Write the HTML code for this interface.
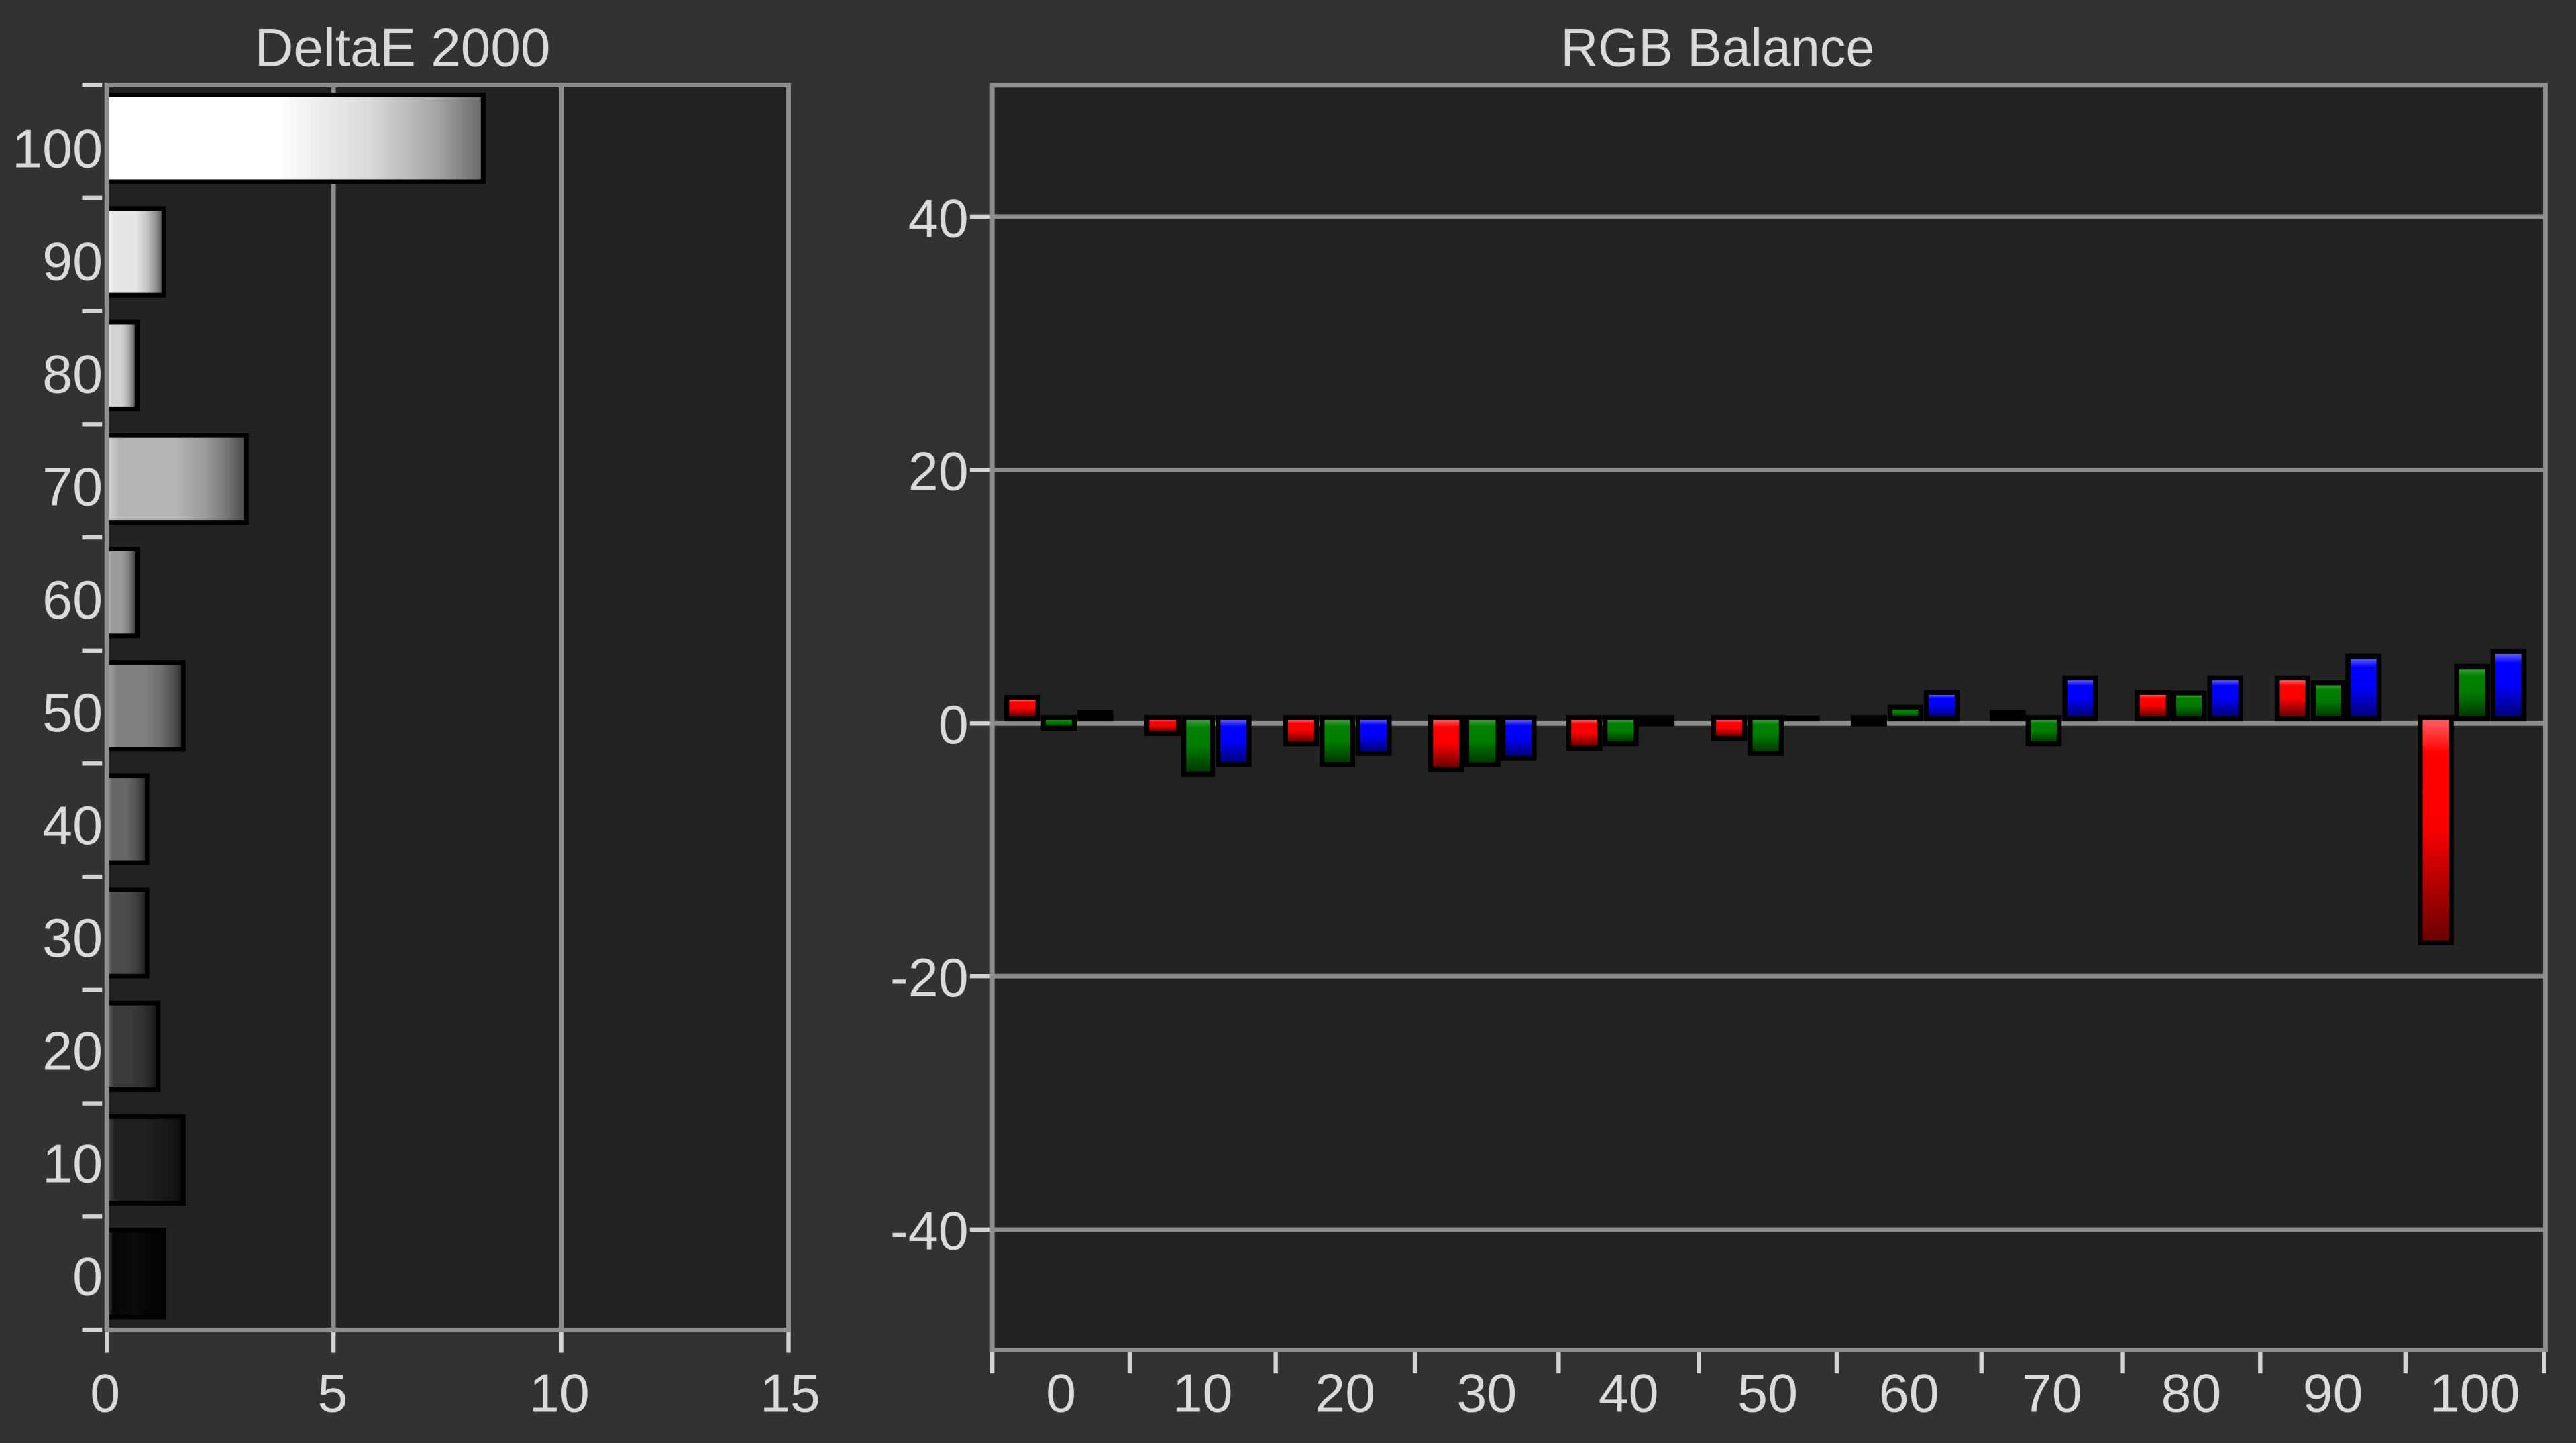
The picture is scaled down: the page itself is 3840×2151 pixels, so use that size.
<!DOCTYPE html>
<html>
<head>
<meta charset="utf-8">
<style>
html,body{margin:0;padding:0;background:#323232;}
svg{display:block;}
text{font-family:"Liberation Sans",Arial,sans-serif;fill:#dadada;font-size:33px;}
</style>
</head>
<body>
<svg width="3840" height="2151" viewBox="0 0 1568 878.3" preserveAspectRatio="none" xmlns="http://www.w3.org/2000/svg">
<defs>
  <linearGradient id="gR" x1="0" y1="0" x2="0" y2="1">
    <stop offset="0" stop-color="#ff5c5c"/><stop offset="0.15" stop-color="#ff0000"/><stop offset="0.5" stop-color="#f80000"/><stop offset="1" stop-color="#6a0000"/>
  </linearGradient>
  <linearGradient id="gG" x1="0" y1="0" x2="0" y2="1">
    <stop offset="0" stop-color="#3c9c3c"/><stop offset="0.15" stop-color="#008000"/><stop offset="0.5" stop-color="#007c00"/><stop offset="1" stop-color="#003800"/>
  </linearGradient>
  <linearGradient id="gB" x1="0" y1="0" x2="0" y2="1">
    <stop offset="0" stop-color="#5c5cff"/><stop offset="0.15" stop-color="#0000ff"/><stop offset="0.5" stop-color="#0000f8"/><stop offset="1" stop-color="#00007a"/>
  </linearGradient>
  <linearGradient id="l0" x1="0" y1="0" x2="1" y2="0"><stop offset="0" stop-color="#ffffff"/><stop offset="0.45" stop-color="#ffffff"/><stop offset="0.7" stop-color="#d9d9d9"/><stop offset="0.88" stop-color="#a6a6a6"/><stop offset="1" stop-color="#6b6b6b"/></linearGradient>
  <linearGradient id="l1" x1="0" y1="0" x2="1" y2="0"><stop offset="0" stop-color="#f5f5f5"/><stop offset="0.1" stop-color="#e6e6e6"/><stop offset="0.5" stop-color="#e6e6e6"/><stop offset="0.72" stop-color="#c4c4c4"/><stop offset="0.88" stop-color="#969696"/><stop offset="1" stop-color="#616161"/></linearGradient>
  <linearGradient id="l2" x1="0" y1="0" x2="1" y2="0"><stop offset="0" stop-color="#e6e6e6"/><stop offset="0.1" stop-color="#d2d2d2"/><stop offset="0.5" stop-color="#d2d2d2"/><stop offset="0.72" stop-color="#b3b3b3"/><stop offset="0.88" stop-color="#898989"/><stop offset="1" stop-color="#585858"/></linearGradient>
  <linearGradient id="l3" x1="0" y1="0" x2="1" y2="0"><stop offset="0" stop-color="#d0d0d0"/><stop offset="0.08" stop-color="#b4b4b4"/><stop offset="0.5" stop-color="#b4b4b4"/><stop offset="0.72" stop-color="#999999"/><stop offset="0.88" stop-color="#757575"/><stop offset="1" stop-color="#4c4c4c"/></linearGradient>
  <linearGradient id="l4" x1="0" y1="0" x2="1" y2="0"><stop offset="0" stop-color="#b4b4b4"/><stop offset="0.1" stop-color="#9a9a9a"/><stop offset="0.5" stop-color="#9a9a9a"/><stop offset="0.72" stop-color="#838383"/><stop offset="0.88" stop-color="#646464"/><stop offset="1" stop-color="#414141"/></linearGradient>
  <linearGradient id="l5" x1="0" y1="0" x2="1" y2="0"><stop offset="0" stop-color="#a0a0a0"/><stop offset="0.12" stop-color="#808080"/><stop offset="0.5" stop-color="#808080"/><stop offset="0.72" stop-color="#6d6d6d"/><stop offset="0.88" stop-color="#535353"/><stop offset="1" stop-color="#363636"/></linearGradient>
  <linearGradient id="l6" x1="0" y1="0" x2="1" y2="0"><stop offset="0" stop-color="#828282"/><stop offset="0.1" stop-color="#666666"/><stop offset="0.5" stop-color="#666666"/><stop offset="0.72" stop-color="#575757"/><stop offset="0.88" stop-color="#424242"/><stop offset="1" stop-color="#2b2b2b"/></linearGradient>
  <linearGradient id="l7" x1="0" y1="0" x2="1" y2="0"><stop offset="0" stop-color="#696969"/><stop offset="0.1" stop-color="#4c4c4c"/><stop offset="0.5" stop-color="#4c4c4c"/><stop offset="0.72" stop-color="#414141"/><stop offset="0.88" stop-color="#313131"/><stop offset="1" stop-color="#202020"/></linearGradient>
  <linearGradient id="l8" x1="0" y1="0" x2="1" y2="0"><stop offset="0" stop-color="#5f5f5f"/><stop offset="0.1" stop-color="#3a3a3a"/><stop offset="0.5" stop-color="#3a3a3a"/><stop offset="0.72" stop-color="#313131"/><stop offset="0.88" stop-color="#262626"/><stop offset="1" stop-color="#181818"/></linearGradient>
  <linearGradient id="l9" x1="0" y1="0" x2="1" y2="0"><stop offset="0" stop-color="#464646"/><stop offset="0.08" stop-color="#202020"/><stop offset="0.5" stop-color="#202020"/><stop offset="0.72" stop-color="#1b1b1b"/><stop offset="0.88" stop-color="#151515"/><stop offset="1" stop-color="#0d0d0d"/></linearGradient>
  <linearGradient id="l10" x1="0" y1="0" x2="1" y2="0"><stop offset="0" stop-color="#323232"/><stop offset="0.08" stop-color="#060606"/><stop offset="0.5" stop-color="#0a0a0a"/><stop offset="0.72" stop-color="#050505"/><stop offset="1" stop-color="#030303"/></linearGradient>
</defs>

<!-- background -->
<rect x="0" y="0" width="1568" height="878.3" fill="#323232"/>

<!-- titles -->
<text x="245" y="40.3" text-anchor="middle" textLength="180" lengthAdjust="spacingAndGlyphs">DeltaE 2000</text>
<text x="1045.5" y="40.3" text-anchor="middle" textLength="191" lengthAdjust="spacingAndGlyphs">RGB Balance</text>

<!-- ================= LEFT CHART ================= -->
<rect x="65" y="51.7" width="415" height="757.7" fill="#222222"/>
<g stroke="#8c8c8c" stroke-width="2.8" fill="none">
  <line x1="203" y1="51.7" x2="203" y2="809.4"/>
  <line x1="341.6" y1="51.7" x2="341.6" y2="809.4"/>
</g>

<!-- left bars -->
<g fill="#000">
  <rect x="65" y="56.4" width="230.7" height="55.6"/>
  <rect x="65" y="125.5" width="36" height="55.6"/>
  <rect x="65" y="194.6" width="20" height="55.6"/>
  <rect x="65" y="263.7" width="86.4" height="55.6"/>
  <rect x="65" y="332.8" width="20.1" height="55.6"/>
  <rect x="65" y="401.9" width="48" height="55.6"/>
  <rect x="65" y="470.9" width="25.9" height="55.6"/>
  <rect x="65" y="540.0" width="25.9" height="55.6"/>
  <rect x="65" y="609.1" width="32.7" height="55.6"/>
  <rect x="65" y="678.2" width="48" height="55.6"/>
  <rect x="65" y="747.3" width="36.3" height="55.6"/>
</g>
<rect x="66.3" y="59.2" width="226.4" height="50" fill="url(#l0)"/>
<rect x="66.3" y="128.3" width="32" height="50" fill="url(#l1)"/>
<rect x="66.3" y="197.4" width="15.7" height="50" fill="url(#l2)"/>
<rect x="66.3" y="266.5" width="82.1" height="50" fill="url(#l3)"/>
<rect x="66.3" y="335.6" width="15.8" height="50" fill="url(#l4)"/>
<rect x="66.3" y="404.7" width="43.9" height="50" fill="url(#l5)"/>
<rect x="66.3" y="473.7" width="21.9" height="50" fill="url(#l6)"/>
<rect x="66.3" y="542.8" width="21.9" height="50" fill="url(#l7)"/>
<rect x="66.3" y="611.9" width="28.4" height="50" fill="url(#l8)"/>
<rect x="66.3" y="681.0" width="43.7" height="50" fill="url(#l9)"/>
<rect x="66.3" y="750.1" width="32" height="50" fill="url(#l10)"/>

<!-- left frame -->
<g stroke="#8e8e8e" stroke-width="2.8" fill="none">
  <line x1="63.6" y1="51.7" x2="481.4" y2="51.7"/>
  <line x1="480" y1="51.7" x2="480" y2="809.4"/>
  <line x1="63.6" y1="809.4" x2="481.4" y2="809.4"/>
  <line x1="65" y1="50.3" x2="65" y2="810.8"/>
</g>
<!-- left ticks -->
<g stroke="#d4d4d4" stroke-width="2.6">
  <line x1="50" y1="51.5" x2="62.2" y2="51.5"/>
  <line x1="50" y1="120.4" x2="62.2" y2="120.4"/>
  <line x1="50" y1="189.3" x2="62.2" y2="189.3"/>
  <line x1="50" y1="258.2" x2="62.2" y2="258.2"/>
  <line x1="50" y1="327.1" x2="62.2" y2="327.1"/>
  <line x1="50" y1="396.0" x2="62.2" y2="396.0"/>
  <line x1="50" y1="464.8" x2="62.2" y2="464.8"/>
  <line x1="50" y1="533.7" x2="62.2" y2="533.7"/>
  <line x1="50" y1="602.6" x2="62.2" y2="602.6"/>
  <line x1="50" y1="671.5" x2="62.2" y2="671.5"/>
  <line x1="50" y1="740.4" x2="62.2" y2="740.4"/>
  <line x1="50" y1="809.3" x2="62.2" y2="809.3"/>
  <line x1="65" y1="810.8" x2="65" y2="823.4"/>
  <line x1="203" y1="810.8" x2="203" y2="823.4"/>
  <line x1="341.6" y1="810.8" x2="341.6" y2="823.4"/>
  <line x1="480" y1="810.8" x2="480" y2="823.4"/>
</g>
<!-- left labels -->
<g text-anchor="end">
  <text x="62.5" y="101.8">100</text>
  <text x="62.5" y="170.45">90</text>
  <text x="62.5" y="239.1">80</text>
  <text x="62.5" y="307.75">70</text>
  <text x="62.5" y="376.4">60</text>
  <text x="62.5" y="445.05">50</text>
  <text x="62.5" y="513.7">40</text>
  <text x="62.5" y="582.35">30</text>
  <text x="62.5" y="651.0">20</text>
  <text x="62.5" y="719.65">10</text>
  <text x="62.5" y="788.3">0</text>
</g>
<g text-anchor="middle">
  <text x="64" y="859.3">0</text>
  <text x="202.5" y="859.3">5</text>
  <text x="340.5" y="859.3">10</text>
  <text x="481" y="859.3">15</text>
</g>

<!-- ================= RIGHT CHART ================= -->
<rect x="604" y="51.8" width="944.8" height="770" fill="#222222"/>
<g stroke="#8c8c8c" stroke-width="2.8">
  <line x1="604" y1="131.8" x2="1548.8" y2="131.8"/>
  <line x1="604" y1="286" x2="1548.8" y2="286"/>
  <line x1="604" y1="440.3" x2="1548.8" y2="440.3"/>
  <line x1="604" y1="594.2" x2="1548.8" y2="594.2"/>
  <line x1="604" y1="748.4" x2="1548.8" y2="748.4"/>
</g>

<!-- right bars: black outlines -->
<g fill="#000">
  <rect x="611.3" y="423.0" width="22.0" height="16.0"/>
  <rect x="633.6" y="435.3" width="21.9" height="9.4"/>
  <rect x="655.9" y="432.2" width="21.7" height="6.8"/>
  <rect x="696.6" y="435.3" width="22.2" height="12.6"/>
  <rect x="719.1" y="435.3" width="20.4" height="37.5"/>
  <rect x="739.9" y="435.3" width="21.9" height="31.6"/>
  <rect x="781.0" y="435.3" width="21.9" height="18.9"/>
  <rect x="803.2" y="435.3" width="21.6" height="31.6"/>
  <rect x="825.1" y="435.3" width="22.0" height="24.8"/>
  <rect x="869.3" y="435.3" width="22.0" height="34.7"/>
  <rect x="891.3" y="435.3" width="22.1" height="31.8"/>
  <rect x="913.4" y="435.3" width="21.9" height="27.7"/>
  <rect x="953.4" y="435.3" width="21.9" height="21.6"/>
  <rect x="975.5" y="435.3" width="21.9" height="18.9"/>
  <rect x="997.4" y="435.3" width="21.9" height="6.8"/>
  <rect x="1041.6" y="435.3" width="21.9" height="15.6"/>
  <rect x="1063.8" y="435.3" width="22.0" height="24.8"/>
  <rect x="1086.1" y="435.6" width="21.6" height="3.4"/>
  <rect x="1126.8" y="435.3" width="21.8" height="6.8"/>
  <rect x="1149.0" y="429.0" width="21.6" height="10.0"/>
  <rect x="1171.0" y="420.0" width="21.9" height="19.0"/>
  <rect x="1211.2" y="432.1" width="21.8" height="6.9"/>
  <rect x="1233.0" y="435.3" width="21.9" height="18.9"/>
  <rect x="1255.4" y="411.1" width="21.7" height="27.9"/>
  <rect x="1299.5" y="420.0" width="21.9" height="19.0"/>
  <rect x="1321.7" y="420.3" width="21.5" height="18.7"/>
  <rect x="1343.6" y="411.1" width="21.9" height="27.9"/>
  <rect x="1384.7" y="411.1" width="21.6" height="27.9"/>
  <rect x="1406.6" y="414.1" width="21.1" height="24.9"/>
  <rect x="1427.7" y="398.0" width="21.9" height="41.0"/>
  <rect x="1471.7" y="435.3" width="21.9" height="140.0"/>
  <rect x="1493.8" y="404.2" width="21.9" height="34.8"/>
  <rect x="1516.0" y="395.1" width="21.8" height="43.9"/>
</g>
<!-- right bars: fills -->
<g fill="url(#gR)">
  <rect x="614.3" y="426" width="16" height="10"/>
  <rect x="699.6" y="438.3" width="16.2" height="6.6"/>
  <rect x="784" y="438.3" width="15.9" height="12.9"/>
  <rect x="872.3" y="438.3" width="16" height="28.7"/>
  <rect x="956.4" y="438.3" width="15.9" height="15.6"/>
  <rect x="1044.6" y="438.3" width="15.9" height="9.6"/>
  <rect x="1302.5" y="423" width="15.9" height="13"/>
  <rect x="1387.7" y="414.1" width="15.6" height="21.9"/>
  <rect x="1474.7" y="438.3" width="15.9" height="134"/>
</g>
<g fill="url(#gG)">
  <rect x="636.6" y="438.3" width="15.9" height="3.4"/>
  <rect x="722.1" y="438.3" width="14.4" height="31.5"/>
  <rect x="806.2" y="438.3" width="15.6" height="25.6"/>
  <rect x="894.3" y="438.3" width="16.1" height="25.8"/>
  <rect x="978.5" y="438.3" width="15.9" height="12.9"/>
  <rect x="1066.8" y="438.3" width="16" height="18.8"/>
  <rect x="1152" y="432" width="15.6" height="4"/>
  <rect x="1236" y="438.3" width="15.9" height="12.9"/>
  <rect x="1324.7" y="423.3" width="15.5" height="12.7"/>
  <rect x="1409.6" y="417.1" width="15.1" height="18.9"/>
  <rect x="1496.8" y="407.2" width="15.9" height="28.8"/>
</g>
<g fill="url(#gB)">
  <rect x="742.9" y="438.3" width="15.9" height="25.6"/>
  <rect x="828.1" y="438.3" width="16" height="18.8"/>
  <rect x="916.4" y="438.3" width="15.9" height="21.7"/>
  <rect x="1174" y="423" width="15.9" height="13"/>
  <rect x="1258.4" y="414.1" width="15.7" height="21.9"/>
  <rect x="1346.6" y="414.1" width="15.9" height="21.9"/>
  <rect x="1430.7" y="401" width="15.9" height="35"/>
  <rect x="1519" y="398.1" width="15.8" height="37.9"/>
</g>

<!-- right frame -->
<g stroke="#8e8e8e" stroke-width="2.8" fill="none">
  <line x1="602.6" y1="51.8" x2="1550.8" y2="51.8"/>
  <line x1="604" y1="51.8" x2="604" y2="823.2"/>
  <line x1="1549.4" y1="51.8" x2="1549.4" y2="823.2"/>
  <line x1="602.6" y1="821.8" x2="1550.8" y2="821.8"/>
</g>
<!-- right ticks -->
<g stroke="#d4d4d4" stroke-width="2.6">
  <line x1="590.4" y1="131.8" x2="602.6" y2="131.8"/>
  <line x1="590.4" y1="286" x2="602.6" y2="286"/>
  <line x1="590.4" y1="440.3" x2="602.6" y2="440.3"/>
  <line x1="590.4" y1="594.2" x2="602.6" y2="594.2"/>
  <line x1="590.4" y1="748.4" x2="602.6" y2="748.4"/>
  <line x1="604" y1="823.2" x2="604" y2="835.9"/>
  <line x1="687.6" y1="823.2" x2="687.6" y2="835.9"/>
  <line x1="776.5" y1="823.2" x2="776.5" y2="835.9"/>
  <line x1="861.2" y1="823.2" x2="861.2" y2="835.9"/>
  <line x1="948.7" y1="823.2" x2="948.7" y2="835.9"/>
  <line x1="1034" y1="823.2" x2="1034" y2="835.9"/>
  <line x1="1118" y1="823.2" x2="1118" y2="835.9"/>
  <line x1="1206.1" y1="823.2" x2="1206.1" y2="835.9"/>
  <line x1="1291.8" y1="823.2" x2="1291.8" y2="835.9"/>
  <line x1="1375.8" y1="823.2" x2="1375.8" y2="835.9"/>
  <line x1="1464.2" y1="823.2" x2="1464.2" y2="835.9"/>
  <line x1="1548.6" y1="823.2" x2="1548.6" y2="835.9"/>
</g>
<!-- right labels -->
<g text-anchor="end">
  <text x="589.5" y="144.3">40</text>
  <text x="589.5" y="298.3">20</text>
  <text x="589.5" y="452.4">0</text>
  <text x="589.5" y="606.3">-20</text>
  <text x="589.5" y="760.5">-40</text>
</g>
<g text-anchor="middle">
  <text x="645.8" y="859.3">0</text>
  <text x="732" y="859.3">10</text>
  <text x="818.8" y="859.3">20</text>
  <text x="905" y="859.3">30</text>
  <text x="991.3" y="859.3">40</text>
  <text x="1076" y="859.3">50</text>
  <text x="1162" y="859.3">60</text>
  <text x="1249" y="859.3">70</text>
  <text x="1333.8" y="859.3">80</text>
  <text x="1420" y="859.3">90</text>
  <text x="1506.4" y="859.3">100</text>
</g>
</svg>
</body>
</html>
